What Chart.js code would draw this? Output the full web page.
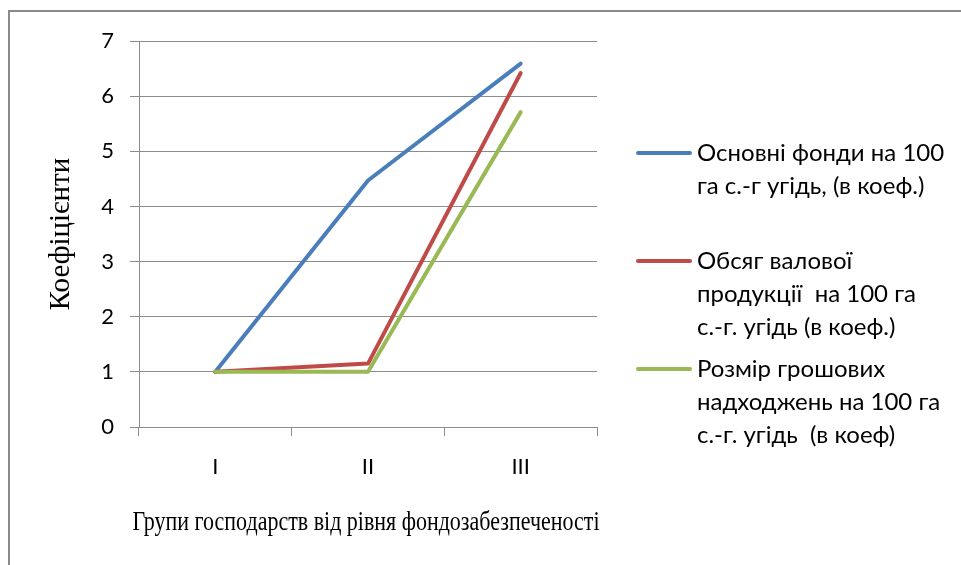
<!DOCTYPE html>
<html>
<head>
<meta charset="utf-8">
<script src="https://cdn.jsdelivr.net/npm/chart.js@4.4.1/dist/chart.umd.min.js"></script>
<style>
  html, body { margin: 0; padding: 0; background: #ffffff; }
  #wrap { width: 961px; height: 565px; position: relative; }
</style>
</head>
<body>
<div id="wrap"><canvas id="chart" width="961" height="565"></canvas></div>
<script>
// Groups of farms
const categories = ['I', 'II', 'III'];

// Coefficients per group
const fixedAssets = [1, 4.47, 6.59];
const grossOutput = [1, 1.15, 6.42];
const cashRevenue = [1, 1.0, 5.71];

// Legend captions, one line per array item
const fixedAssetsLabel = ['Основні фонди на 100', 'га с.-г угідь, (в коеф.)'];
const grossOutputLabel = ['Обсяг валової', 'продукції  на 100 га', 'с.-г. угідь (в коеф.)'];
const cashRevenueLabel = ['Розмір грошових', 'надходжень на 100 га', 'с.-г. угідь  (в коеф)'];

const yTicks = [0, 1, 2, 3, 4, 5, 6, 7];

const xTitle = 'Групи господарств від рівня фондозабезпеченості';
const yTitle = 'Коефіцієнти';

const SANS = 'Lato, "Open Sans", sans-serif';
const SERIF = '"Liberation Serif", "DejaVu Serif", serif';

// White page with a grey frame
const framePlugin = {
  id: 'frame',
  beforeDraw(chart) {
    const ctx = chart.ctx;
    ctx.save();
    ctx.fillStyle = '#ffffff';
    ctx.fillRect(0, 0, chart.width, chart.height);
    ctx.strokeStyle = '#8a8a8a';
    ctx.lineWidth = 2;
    ctx.strokeRect(9, 11, chart.width + 20, chart.height + 20);
    ctx.restore();
  }
};

// Category axis title, centred under the plot area in a condensed serif
const xTitlePlugin = {
  id: 'xTitle',
  afterDraw(chart) {
    const ctx = chart.ctx;
    const area = chart.chartArea;
    ctx.save();
    ctx.font = '28px ' + SERIF;
    ctx.fillStyle = '#000000';
    ctx.textAlign = 'center';
    ctx.textBaseline = 'middle';
    ctx.fillText(xTitle, (area.left + area.right) / 2 - 2, area.bottom + 96, 467);
    ctx.restore();
  }
};

// Legend on the right with wrapped captions
const sideLegend = {
  id: 'sideLegend',
  afterDraw(chart) {
    const ctx = chart.ctx;
    const entries = [
      { ds: 0, lines: fixedAssetsLabel, y: 153 },
      { ds: 1, lines: grossOutputLabel, y: 261 },
      { ds: 2, lines: cashRevenueLabel, y: 369 }
    ];
    ctx.save();
    ctx.font = '24px ' + SANS;
    ctx.textBaseline = 'middle';
    ctx.textAlign = 'left';
    entries.forEach(e => {
      const ds = chart.data.datasets[e.ds];
      ctx.strokeStyle = ds.borderColor;
      ctx.lineWidth = 4;
      ctx.lineCap = 'round';
      ctx.beginPath();
      ctx.moveTo(638, e.y);
      ctx.lineTo(690, e.y);
      ctx.stroke();
      ctx.fillStyle = '#000000';
      e.lines.forEach((t, i) => ctx.fillText(t, 697, e.y + i * 33));
    });
    ctx.restore();
  }
};

new Chart(document.getElementById('chart'), {
  type: 'line',
  data: {
    labels: categories,
    datasets: [
      { label: fixedAssetsLabel.join(' '), data: fixedAssets, borderColor: '#4a7ebb', order: 2 },
      { label: grossOutputLabel.join(' '), data: grossOutput, borderColor: '#be4b48', order: 1 },
      { label: cashRevenueLabel.join(' '), data: cashRevenue, borderColor: '#98b954', order: 0 }
    ]
  },
  options: {
    responsive: false,
    animation: false,
    devicePixelRatio: 1,
    layout: { padding: { left: 0, top: 41, right: 364, bottom: 0 } },
    elements: {
      line: { borderWidth: 4, tension: 0, borderJoinStyle: 'round', borderCapStyle: 'round', fill: false },
      point: { radius: 0, hoverRadius: 0 }
    },
    plugins: {
      legend: { display: false },
      tooltip: { enabled: false }
    },
    scales: {
      x: {
        offset: true,
        grid: { offset: true, drawOnChartArea: false, drawTicks: true, tickLength: 9, color: '#8c8c8c', lineWidth: 1 },
        border: { display: true, color: '#8c8c8c', width: 1 },
        ticks: { color: '#000000', padding: 18, font: { family: SANS, size: 22 } },
        title: { display: false },
        afterFit(scale) { scale.height = 138; }
      },
      y: {
        min: 0,
        max: 7,
        afterBuildTicks(scale) { scale.ticks = yTicks.map(v => ({ value: v })); },
        grid: { drawTicks: true, tickLength: 9, color: '#8c8c8c', lineWidth: 1 },
        border: { display: true, color: '#8c8c8c', width: 1 },
        ticks: { color: '#000000', padding: 16, font: { family: SANS, size: 22 } },
        title: { display: true, text: yTitle, color: '#000000', font: { family: SERIF, size: 29 }, padding: { top: 44, bottom: 0 } },
        afterFit(scale) { scale.width = 139; }
      }
    }
  },
  plugins: [framePlugin, xTitlePlugin, sideLegend]
});
</script>
</body>
</html>
